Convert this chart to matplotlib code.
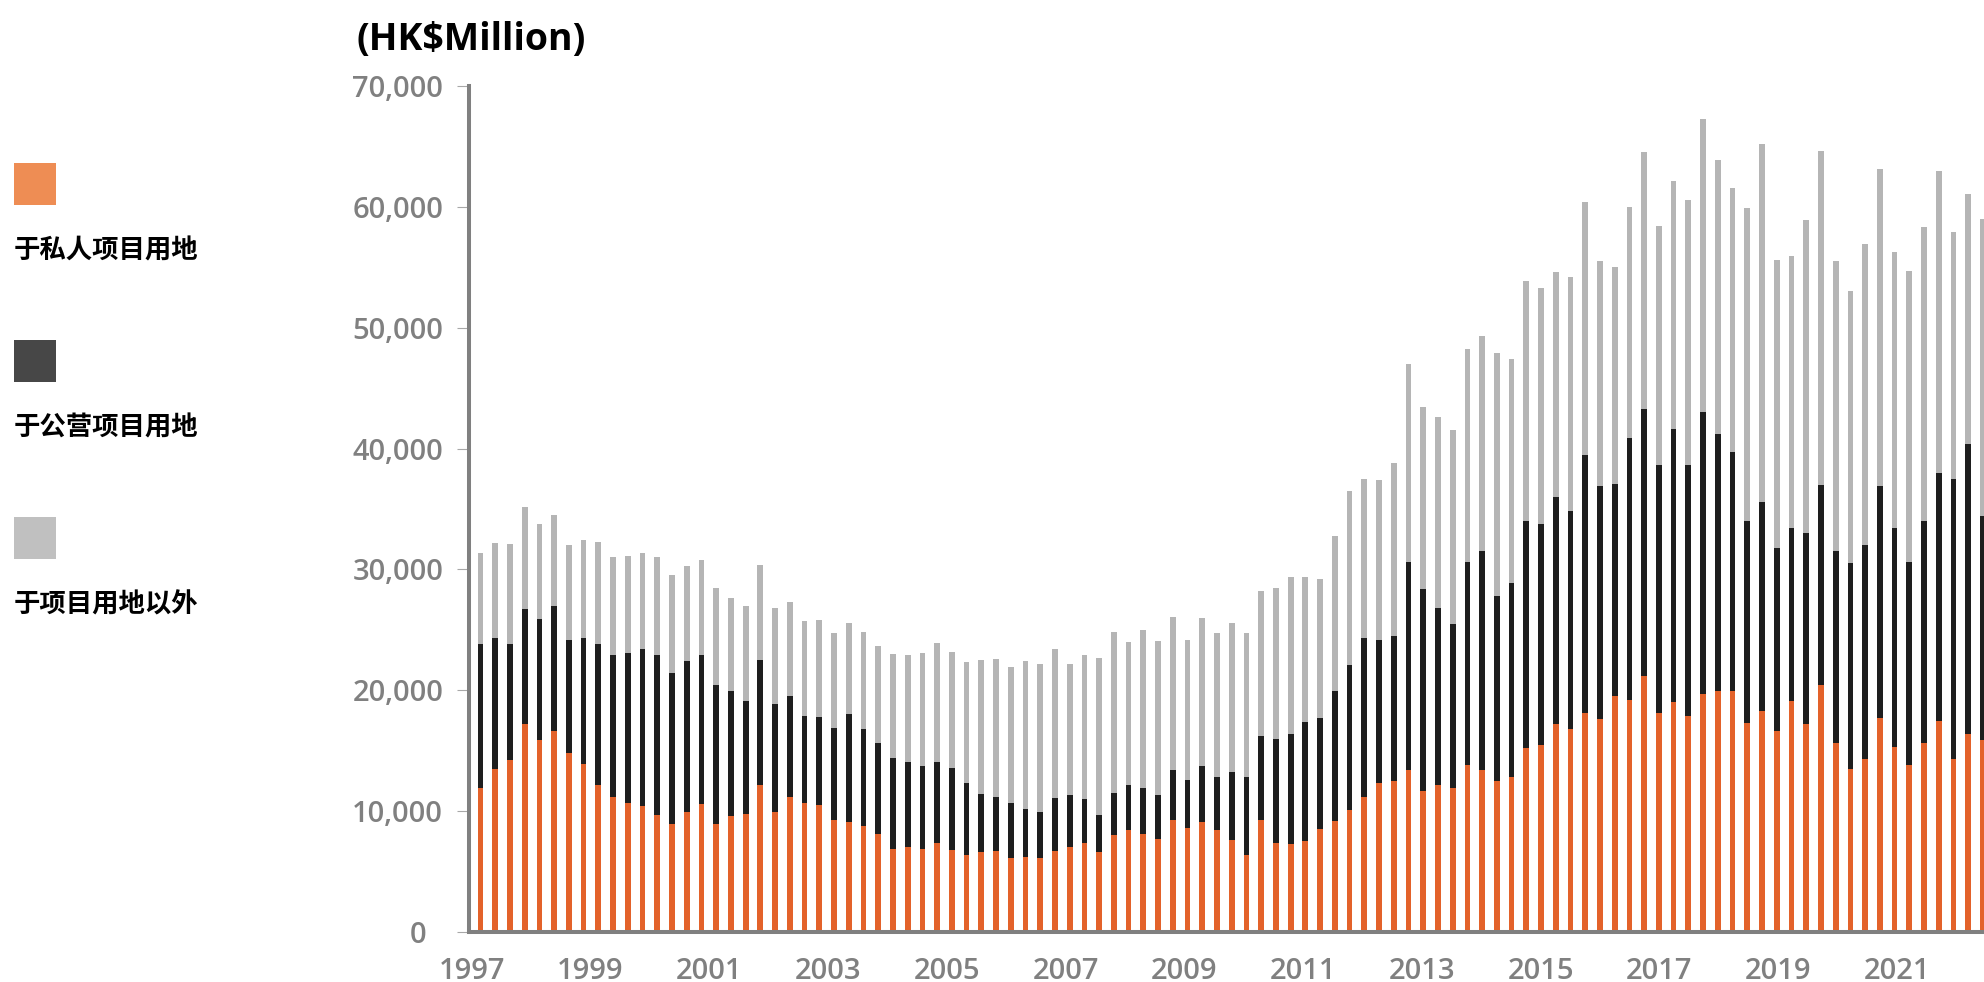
import matplotlib
matplotlib.use("Agg")
import matplotlib.pyplot as plt
from matplotlib.patches import Rectangle
import numpy as np

plt.rcParams['font.family'] = ['Open Sans', 'Noto Sans', 'Noto Sans CJK SC', 'DejaVu Sans']

# quarterly figures, 1997 Q1 onwards (HK$ million)
quarters = [f"{y}Q{q}" for y in range(1997, 2023) for q in range(1, 5)][:103]

private_land = [
    11900, 13500, 14200, 17200, 15900, 16600, 14800, 13900, 12200, 11200,
    10700, 10400, 9700, 8900, 9900, 10600, 8900, 9600, 9800, 12200,
    9900, 11200, 10700, 10500, 9300, 9100, 8800, 8100, 6900, 7000,
    6900, 7400, 6800, 6400, 6600, 6700, 6100, 6200, 6100, 6700,
    7000, 7400, 6600, 8000, 8400, 8100, 7700, 9300, 8600, 9100,
    8400, 7600, 6400, 9300, 7400, 7300, 7500, 8500, 9200, 10100,
    11200, 12300, 12500, 13400, 11700, 12200, 11900, 13800, 13400, 12500,
    12800, 15200, 15500, 17200, 16800, 18100, 17600, 19500, 19200, 21200,
    18100, 19000, 17900, 19700, 19900, 19900, 17300, 18300, 16600, 19100,
    17200, 20400, 15600, 13500, 14300, 17700, 15300, 13800, 15600, 17500,
    14300, 16400, 15900,
]
public_land = [
    11900, 10800, 9600, 9500, 10000, 10400, 9400, 10400, 11600, 11700,
    12400, 13000, 13200, 12500, 12500, 12300, 11500, 10300, 9300, 10300,
    9000, 8300, 7200, 7300, 7600, 8900, 8000, 7500, 7500, 7100,
    6800, 6700, 6800, 5900, 4800, 4500, 4600, 4000, 3800, 4400,
    4300, 3600, 3100, 3500, 3800, 3800, 3600, 4100, 4000, 4600,
    4400, 5600, 6400, 6900, 8600, 9100, 9900, 9200, 10700, 12000,
    13100, 11900, 12000, 17200, 16700, 14600, 13600, 16800, 18100, 15300,
    16100, 18800, 18300, 18800, 18000, 21400, 19300, 17600, 21700, 22100,
    20500, 22600, 20700, 23300, 21300, 19800, 16700, 17300, 15200, 14300,
    15800, 16600, 15900, 17000, 17700, 19200, 18100, 16800, 18400, 20500,
    23200, 24000, 18500,
]
other_use = [
    7600, 7900, 8300, 8500, 7900, 7500, 7800, 8100, 8500, 8100,
    8000, 8000, 8100, 8100, 7900, 7900, 8100, 7700, 7900, 7900,
    7900, 7800, 7800, 8000, 7800, 7600, 8000, 8100, 8600, 8800,
    9400, 9800, 9600, 10000, 11100, 11400, 11200, 12200, 12300, 12300,
    10900, 11900, 13000, 13300, 11800, 13100, 12800, 12700, 11600, 12300,
    11900, 12400, 11900, 12000, 12500, 13000, 12000, 11500, 12900, 14400,
    13200, 13200, 14300, 16400, 15000, 15800, 16000, 17600, 17800, 20100,
    18500, 19900, 19500, 18600, 19400, 20900, 18600, 17900, 19100, 21200,
    19800, 20500, 22000, 24300, 22700, 21900, 25900, 29600, 23800, 22500,
    25900, 27600, 24000, 22500, 24900, 26200, 22900, 24100, 24300, 25000,
    20400, 20700, 24600,
]

series_names = ['于私人项目用地', '于公营项目用地', '于项目用地以外']
bar_colors = ['#E3622A', '#1E1E1E', '#B5B5B5']
key_colors = ['#EE8D54', '#474747', '#C0C0C0']
year_labels = [str(y) for y in range(1997, 2022, 2)]
y_ticks = list(range(0, 70001, 10000))

W, H = 1984, 982
fig = plt.figure(figsize=(W / 100, H / 100), dpi=100)
ax = fig.add_axes([469 / W, 1 - 932 / H, 1 - 469 / W, (932 - 86) / H])

x = np.arange(len(quarters)) + 0.78
bottom = np.zeros(len(quarters))
for vals, col in zip([private_land, public_land, other_use], bar_colors):
    ax.bar(x, vals, width=0.39, bottom=bottom, color=col, linewidth=0)
    bottom += np.array(vals)

ax.set_xlim(0, (W - 469) / 14.73)
ax.set_ylim(0, 70000)

# axes styling
for side in ['top', 'right']:
    ax.spines[side].set_visible(False)
for side in ['left', 'bottom']:
    ax.spines[side].set_color('#808080')
    ax.spines[side].set_linewidth(2.9)
    ax.spines[side].set_capstyle('projecting')

ax.set_yticks(y_ticks)
ax.set_yticklabels(['0\u2007'] + [f'{v:,}' for v in y_ticks[1:]])
ax.tick_params(axis='y', length=8.6, width=0.8, color='#A8A8A8', pad=10,
               labelsize=21, labelcolor='#808080')

ax.set_xticks([0.18 + 8.064 * k for k in range(len(year_labels))])
ax.set_xticklabels(year_labels)
ax.tick_params(axis='x', length=0, pad=18, labelsize=21, labelcolor='#808080')
for lab in ax.get_xticklabels() + ax.get_yticklabels():
    lab.set_fontweight('semibold')

fig.text(356 / W, 1 - 40 / H, '(HK$Million)', fontsize=27, fontweight='bold',
         color='black', ha='left', va='center')

# legend keys on the left
for i, (name, col) in enumerate(zip(series_names, key_colors)):
    top = 163 + 177 * i
    fig.patches.append(Rectangle((14 / W, 1 - (top + 42) / H), 42 / W, 42 / H,
                                 transform=fig.transFigure, color=col, lw=0))
    fig.text(14 / W, 1 - (top + 88) / H, name, fontsize=19, fontweight='black',
             family=['Noto Sans CJK SC', 'DejaVu Sans'], ha='left', va='center')

fig.savefig('out.png', dpi=100)
